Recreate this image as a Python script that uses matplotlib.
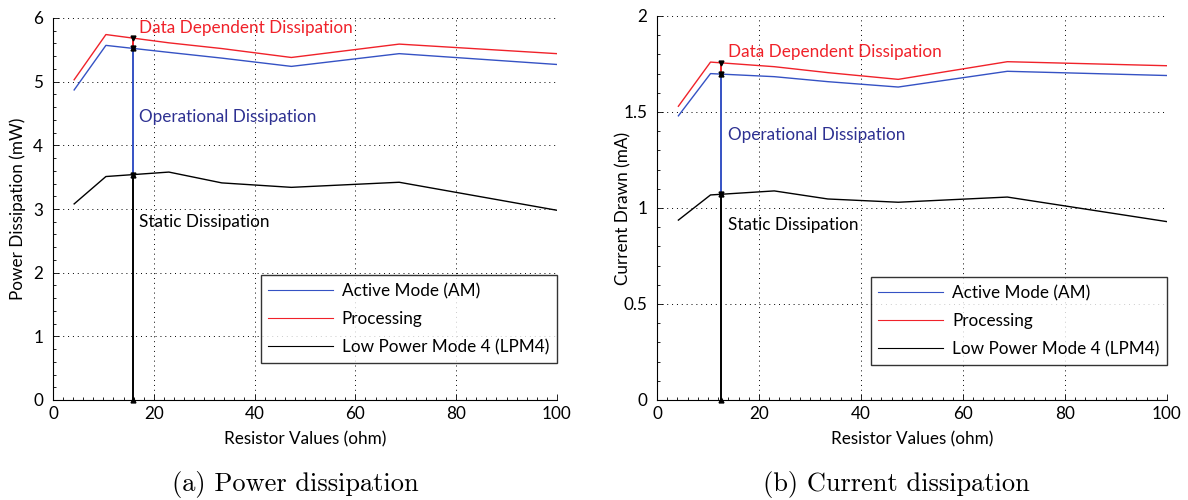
import numpy as np
import matplotlib
matplotlib.use("Agg")
import matplotlib.pyplot as plt
from matplotlib.ticker import MultipleLocator, FuncFormatter

plt.rcParams['font.family'] = ['Lato', 'DejaVu Sans']

# Resistor values (ohm)
resistors = [4.2, 10.5, 23, 33.5, 47.3, 68.7, 100]

# Power dissipation (mW)
power_active = [4.87, 5.57, 5.46, 5.37, 5.24, 5.44, 5.27]
power_processing = [5.03, 5.74, 5.61, 5.52, 5.38, 5.59, 5.44]
power_lpm4 = [3.08, 3.51, 3.58, 3.41, 3.34, 3.42, 2.98]

# Current drawn (mA)
current_active = [1.48, 1.70, 1.684, 1.658, 1.63, 1.712, 1.69]
current_processing = [1.53, 1.76, 1.736, 1.705, 1.67, 1.762, 1.741]
current_lpm4 = [0.937, 1.068, 1.089, 1.047, 1.030, 1.057, 0.929]

series_labels = ["Active Mode (AM)", "Processing", "Low Power Mode 4 (LPM4)"]
region_labels = ["Data Dependent Dissipation", "Operational Dissipation", "Static Dissipation"]

BLUE = "#3552c4"
RED = "#f0222a"
NAVY = "#2e3192"
FS = 12.3


def draw_panel(ax, active, processing, lpm4, ylim, ystep, y_minor, ylabel,
               ylabel_pad, marker_x, text_x, text_y, legend_y):
    ax.plot(resistors, active, color=BLUE, lw=1.0, label=series_labels[0])
    ax.plot(resistors, processing, color=RED, lw=1.0, label=series_labels[1])
    ax.plot(resistors, lpm4, color="black", lw=1.0, label=series_labels[2])

    # vertical breakdown of the dissipation at one resistor value
    y_static = np.interp(marker_x, resistors, lpm4)
    y_active = np.interp(marker_x, resistors, active)
    y_proc = np.interp(marker_x, resistors, processing)
    ax.plot([marker_x, marker_x], [0, y_static], color="black", lw=1.4,
            solid_capstyle="butt")
    ax.plot([marker_x, marker_x], [y_static, y_active], color=BLUE, lw=1.4,
            solid_capstyle="butt")
    ax.plot([marker_x, marker_x], [y_active, y_proc], color=RED, lw=1.4,
            solid_capstyle="butt")
    ms = 3.5
    ax.plot([marker_x], [0], marker="^", color="black", ms=ms, clip_on=False)
    for yv in (y_static, y_active):
        ax.plot([marker_x], [yv], marker="^", color="black", ms=ms)
        ax.plot([marker_x], [yv], marker="v", color="black", ms=ms)
    ax.plot([marker_x], [y_proc], marker="v", color="black", ms=ms)

    ax.text(text_x, text_y[0], region_labels[0], color=RED, fontsize=FS,
            va="center", ha="left")
    ax.text(text_x, text_y[1], region_labels[1], color=NAVY, fontsize=FS,
            va="center", ha="left")
    ax.text(text_x, text_y[2], region_labels[2], color="black", fontsize=FS,
            va="center", ha="left")

    ax.set_xlim(0, 100)
    ax.set_ylim(*ylim)
    ax.xaxis.set_major_locator(MultipleLocator(20))
    ax.xaxis.set_minor_locator(MultipleLocator(2))
    ax.yaxis.set_major_locator(MultipleLocator(ystep))
    ax.yaxis.set_minor_locator(MultipleLocator(y_minor))
    ax.yaxis.set_major_formatter(FuncFormatter(lambda v, p: f"{v:g}"))
    ax.tick_params(which="both", direction="in", labelsize=FS, width=0.6)
    ax.tick_params(which="major", length=4)
    ax.tick_params(which="minor", length=2)
    ax.tick_params(axis="x", which="major", pad=4)
    ax.tick_params(axis="y", which="major", pad=7)
    ax.grid(True, which="major", color="black", linestyle=(0, (1, 4)), lw=0.7)
    for side in ("top", "right"):
        ax.spines[side].set_visible(False)
    for side in ("left", "bottom"):
        ax.spines[side].set_linewidth(0.8)
    ax.set_xlabel("Resistor Values (ohm)", fontsize=FS, labelpad=7)
    ax.set_ylabel(ylabel, fontsize=FS, labelpad=ylabel_pad)

    leg = ax.legend(loc="lower right", bbox_to_anchor=(1.0, legend_y),
                    fontsize=FS, handlelength=3.8, frameon=True,
                    fancybox=False, borderpad=0.45, labelspacing=0.7,
                    handletextpad=0.5, borderaxespad=0)
    leg.get_frame().set_edgecolor("black")
    leg.get_frame().set_linewidth(1.0)
    for line in leg.get_lines():
        line.set_linewidth(0.8)


fig = plt.figure(figsize=(11.88, 5.0), dpi=100)
ax1 = fig.add_axes([0.0446, 0.2, 0.4242, 0.764])
ax2 = fig.add_axes([0.5530, 0.2, 0.4293, 0.768])

draw_panel(ax1, power_active, power_processing, power_lpm4, (0, 6), 1, 0.2,
           "Power Dissipation (mW)", 5, 15.8, 17.0, (5.84, 4.45, 2.8), 0.097)
draw_panel(ax2, current_active, current_processing, current_lpm4, (0, 2), 0.5,
           0.1, "Current Drawn (mA)", -6, 12.5, 14.0, (1.81, 1.38, 0.912),
           0.092)

fig.text(0.2483, 0.03, "(a) Power dissipation", family="cmr10", fontsize=19,
         ha="center", va="center")
fig.text(0.7542, 0.03, "(b) Current dissipation", family="cmr10", fontsize=19,
         ha="center", va="center")

fig.savefig("out.png", dpi=100)
